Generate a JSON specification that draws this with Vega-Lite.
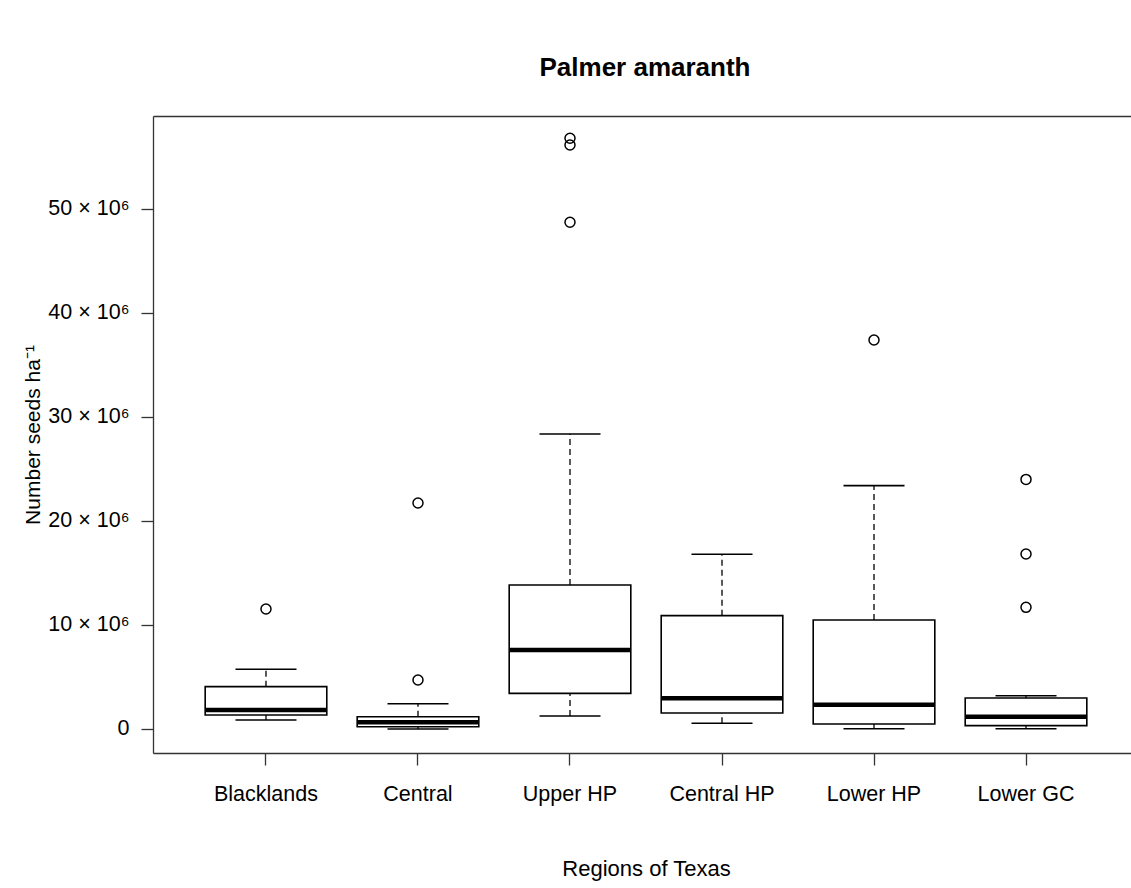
{
  "$schema": "https://vega.github.io/schema/vega-lite/v6.json",
  "width": 978,
  "height": 637,
  "autosize": {"type": "none"},
  "padding": {"left": 153, "top": 116, "right": 0, "bottom": 135},
  "background": "white",
  "config": {
    "view": {"stroke": null},
    "font": "Liberation Sans",
    "axis": {
      "labelFont": "Liberation Sans",
      "titleFont": "Liberation Sans",
      "labelFontSize": 21.5,
      "titleFontSize": 21.5,
      "titleFontWeight": "normal",
      "labelColor": "#000",
      "titleColor": "#000",
      "domainColor": "#333",
      "domainWidth": 1.3,
      "tickColor": "#333",
      "tickWidth": 1.3,
      "tickSize": 12,
      "grid": false
    }
  },
  "title": {
    "text": "Palmer amaranth",
    "font": "Liberation Sans",
    "fontSize": 26,
    "fontWeight": "bold",
    "color": "#000",
    "anchor": "middle",
    "baseline": "alphabetic",
    "offset": 14,
    "dx": 3
  },
  "datasets": {
    "stats": [
      {"region": "Blacklands", "lower": 0.87, "q1": 1.35, "median": 1.83, "q3": 4.07, "upper": 5.74},
      {"region": "Central", "lower": 0.0, "q1": 0.22, "median": 0.64, "q3": 1.18, "upper": 2.43},
      {"region": "Upper HP", "lower": 1.25, "q1": 3.43, "median": 7.6, "q3": 13.85, "upper": 28.37},
      {"region": "Central HP", "lower": 0.55, "q1": 1.54, "median": 2.95, "q3": 10.9, "upper": 16.8},
      {"region": "Lower HP", "lower": 0.03, "q1": 0.48, "median": 2.34, "q3": 10.48, "upper": 23.4},
      {"region": "Lower GC", "lower": 0.03, "q1": 0.32, "median": 1.18, "q3": 2.98, "upper": 3.2}
    ],
    "outliers": [
      {"region": "Blacklands", "seeds": 11.54},
      {"region": "Central", "seeds": 4.71},
      {"region": "Central", "seeds": 21.73},
      {"region": "Upper HP", "seeds": 48.72},
      {"region": "Upper HP", "seeds": 56.15},
      {"region": "Upper HP", "seeds": 56.8},
      {"region": "Lower HP", "seeds": 37.4},
      {"region": "Lower GC", "seeds": 11.7},
      {"region": "Lower GC", "seeds": 16.83},
      {"region": "Lower GC", "seeds": 24.0}
    ]
  },
  "resolve": {"axis": {"x": "independent", "y": "independent"}},
  "layer": [
    {
      "data": {"name": "stats"},
      "mark": {"type": "rule", "color": "#000", "strokeWidth": 1.3, "strokeDash": [6, 4]},
      "encoding": {
        "x": {"field": "region", "type": "nominal", "axis": null,
          "scale": {"type": "band", "domain": ["Blacklands", "Central", "Upper HP", "Central HP", "Lower HP", "Lower GC"], "paddingInner": 0.2, "paddingOuter": 0.317, "align": 0.5415, "round": false}},
        "y": {"field": "q3", "type": "quantitative", "axis": null, "scale": {"domain": [-2.3077, 58.94], "nice": false, "zero": false}},
        "y2": {"field": "upper"}
      }
    },
    {
      "data": {"name": "stats"},
      "mark": {"type": "rule", "color": "#000", "strokeWidth": 1.3, "strokeDash": [6, 4]},
      "encoding": {
        "x": {"field": "region", "type": "nominal", "axis": null},
        "y": {"field": "lower", "type": "quantitative", "axis": null},
        "y2": {"field": "q1"}
      }
    },
    {
      "data": {"name": "stats"},
      "mark": {"type": "tick", "color": "#000", "size": 61, "thickness": 1.6, "opacity": 1},
      "encoding": {
        "x": {"field": "region", "type": "nominal", "axis": null},
        "y": {"field": "upper", "type": "quantitative", "axis": null}
      }
    },
    {
      "data": {"name": "stats"},
      "mark": {"type": "tick", "color": "#000", "size": 61, "thickness": 1.6, "opacity": 1},
      "encoding": {
        "x": {"field": "region", "type": "nominal", "axis": null},
        "y": {"field": "lower", "type": "quantitative", "axis": null}
      }
    },
    {
      "data": {"name": "stats"},
      "mark": {"type": "bar", "fill": "white", "stroke": "#000", "strokeWidth": 1.6},
      "encoding": {
        "x": {"field": "region", "type": "nominal",
          "axis": {"orient": "bottom", "title": "Regions of Texas", "titleFontSize": 22, "titleX": 493, "titleAlign": "center", "labelAngle": 0, "labelPadding": 18, "titlePadding": 54, "domain": true, "ticks": true}},
        "y": {"field": "q1", "type": "quantitative",
          "axis": {"orient": "left", "title": "Number seeds ha⁻¹", "titleFontSize": 21, "titlePadding": 4, "values": [0, 10, 20, 30, 40, 50],
            "labelExpr": "datum.value == 0 ? '0' : datum.value + ' × 10⁶'", "labelPadding": 12}},
        "y2": {"field": "q3"}
      }
    },
    {
      "data": {"name": "stats"},
      "mark": {"type": "tick", "color": "#000", "size": 122, "thickness": 4.5, "opacity": 1},
      "encoding": {
        "x": {"field": "region", "type": "nominal",
          "axis": {"orient": "top", "title": null, "labels": false, "ticks": false, "domain": true}},
        "y": {"field": "median", "type": "quantitative", "axis": null}
      }
    },
    {
      "data": {"name": "outliers"},
      "mark": {"type": "point", "shape": "circle", "filled": false, "color": "#000", "strokeWidth": 1.5, "size": 100, "opacity": 1},
      "encoding": {
        "x": {"field": "region", "type": "nominal", "axis": null},
        "y": {"field": "seeds", "type": "quantitative", "axis": null}
      }
    }
  ]
}
